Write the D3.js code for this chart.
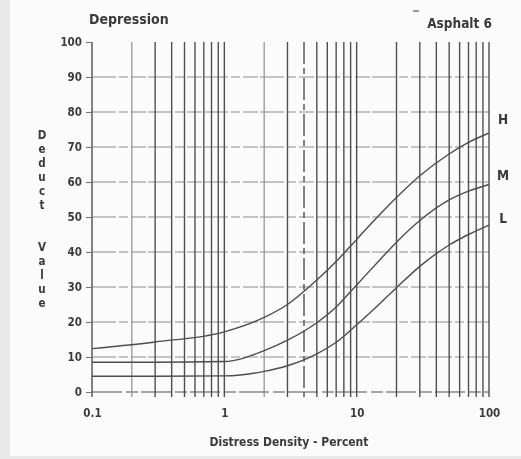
<!DOCTYPE html>
<html>
<head>
<meta charset="utf-8">
<script src="https://cdn.jsdelivr.net/npm/d3@7"></script>
<style>
  html, body { margin: 0; padding: 0; background: #e9e9e9; }
  svg { display: block; }
  text { font-family: "Liberation Sans Narrow", "DejaVu Sans Condensed", "Liberation Sans", sans-serif; fill: #3a3a3a; }
</style>
</head>
<body>
<svg id="chart" width="521" height="459"></svg>
<script>
// Deduct value curves for asphalt depression, by severity level
const density = [0.1, 0.3, 1, 2, 3, 5, 7, 10, 15, 20, 30, 50, 70, 100];
const high   = [12.4, 14.3, 17.2, 21.3, 25.0, 32.0, 37.3, 43.6, 50.8, 55.6, 61.8, 68.0, 71.3, 74.0];
const medium = [8.5, 8.5, 8.7, 11.8, 14.8, 19.8, 24.3, 30.6, 37.8, 42.8, 49.0, 54.9, 57.4, 59.3];
const low    = [4.5, 4.5, 4.6, 5.9, 7.5, 10.9, 14.2, 19.2, 25.3, 29.8, 35.9, 42.0, 45.0, 47.7];
const severityNames = ["H", "M", "L"];
const severityLabelLevels = [78, 62, 49.5];
const yTicks = [0, 10, 20, 30, 40, 50, 60, 70, 80, 90, 100];
const xTickValues = [0.1, 1, 10, 100];
const xTickLabels = ["0.1", "1", "10", "100"];
const yTitle = "Deduct  Value";

const svg = d3.select("#chart");
const W = 521, H = 459;

// paper
svg.append("rect").attr("x", 10).attr("y", 0).attr("width", W - 10).attr("height", H - 3).attr("fill", "#fbfbfb");

const soft = svg.append("defs").append("filter").attr("id", "soft");
soft.append("feGaussianBlur").attr("stdDeviation", 0.45);

const x = d3.scaleLog().domain([0.1, 100]).range([92, 489]);
const y = d3.scaleLinear().domain([0, 100]).range([392, 42]);

const g = svg.append("g").attr("filter", "url(#soft)");

// horizontal grid (lighter, broken)
g.append("g").selectAll("line").data(yTicks.filter(d => d > 0 && d < 100)).join("line")
  .attr("x1", x(0.1)).attr("x2", x(100))
  .attr("y1", d => y(d)).attr("y2", d => y(d))
  .attr("stroke", "#8d8d8d").attr("stroke-width", 1.2)
  .attr("stroke-dasharray", "24,3,9,3,15,2");

// baseline
g.append("line").attr("x1", x(0.1)).attr("x2", x(100)).attr("y1", y(0)).attr("y2", y(0))
  .attr("stroke", "#8a8a8a").attr("stroke-width", 1.3).attr("stroke-dasharray", "30,4,12,3");

// vertical log grid
const vLines = [];
[0.1, 1, 10].forEach(dec => { for (let k = 1; k <= 9; k++) vLines.push(+(dec * k).toPrecision(3)); });
vLines.push(100);
const lighter = new Set([0.2, 2]);
g.append("g").selectAll("line").data(vLines).join("line")
  .attr("x1", d => x(d)).attr("x2", d => x(d))
  .attr("y1", y(100)).attr("y2", y(0) + 5)
  .attr("stroke", d => lighter.has(d) ? "#8f8f8f" : "#505050")
  .attr("stroke-width", d => lighter.has(d) ? 1.2 : 1.4)
  .attr("stroke-dasharray", d => d === 4 ? "22,4,6,4" : null);

// y axis labels and ticks
const yAxis = d3.axisLeft(y).tickValues(yTicks).tickSize(6).tickPadding(4);
const ya = g.append("g").attr("transform", `translate(${x(0.1)},0)`).call(yAxis);
ya.select(".domain").remove();
ya.selectAll(".tick line").attr("stroke", "#777").attr("stroke-width", 1.1);
ya.selectAll(".tick text").attr("font-size", 11.5).attr("font-weight", "bold")
  .attr("fill", "#4a4a4a")
  .style("font-family", "'Liberation Sans Narrow', 'DejaVu Sans Condensed', sans-serif");

// x axis labels
const xAxis = d3.axisBottom(x).tickValues(xTickValues).tickSize(0).tickPadding(17)
  .tickFormat((d, i) => xTickLabels[i]);
const xa = g.append("g").attr("transform", `translate(0,${y(0)})`).call(xAxis);
xa.select(".domain").remove();
xa.selectAll(".tick text").attr("font-size", 11.5).attr("font-weight", "bold")
  .attr("fill", "#4a4a4a")
  .style("font-family", "'Liberation Sans Narrow', 'DejaVu Sans Condensed', sans-serif");

// curves
const series = [high, medium, low];
const line = d3.line().x((d, i) => x(density[i])).y(d => y(d)).curve(d3.curveMonotoneX);
g.append("g").selectAll("path").data(series).join("path")
  .attr("d", d => line(d)).attr("fill", "none")
  .attr("stroke", "#4d4d4d").attr("stroke-width", 1.4);

// severity labels
g.append("g").selectAll("text").data(severityNames).join("text")
  .attr("x", x(100) + 14).attr("y", (d, i) => y(severityLabelLevels[i]))
  .attr("dy", "0.35em").attr("text-anchor", "middle")
  .attr("font-size", 13.5).attr("font-weight", "bold").attr("fill", "#444")
  .text(d => d);

// titles
g.append("text").attr("x", 89).attr("y", 24).attr("font-size", 14).attr("font-weight", "bold")
  .attr("fill", "#444").text("Depression");
g.append("text").attr("x", 492).attr("y", 28).attr("text-anchor", "end").attr("font-size", 13.5)
  .attr("font-weight", "bold").attr("fill", "#444").text("Asphalt 6");
g.append("line").attr("x1", 413).attr("x2", 419).attr("y1", 11).attr("y2", 11)
  .attr("stroke", "#999").attr("stroke-width", 2);

g.append("text").attr("x", 289).attr("y", 446).attr("text-anchor", "middle")
  .attr("font-size", 12).attr("font-weight", "bold").attr("fill", "#444")
  .text("Distress Density - Percent");

// stacked y-axis title
g.append("g").selectAll("text").data(yTitle.split("")).join("text")
  .attr("x", 42).attr("y", (d, i) => 139 + i * 14)
  .attr("text-anchor", "middle").attr("font-size", 11.5).attr("font-weight", "bold")
  .attr("fill", "#444").text(d => d);
</script>
</body>
</html>
